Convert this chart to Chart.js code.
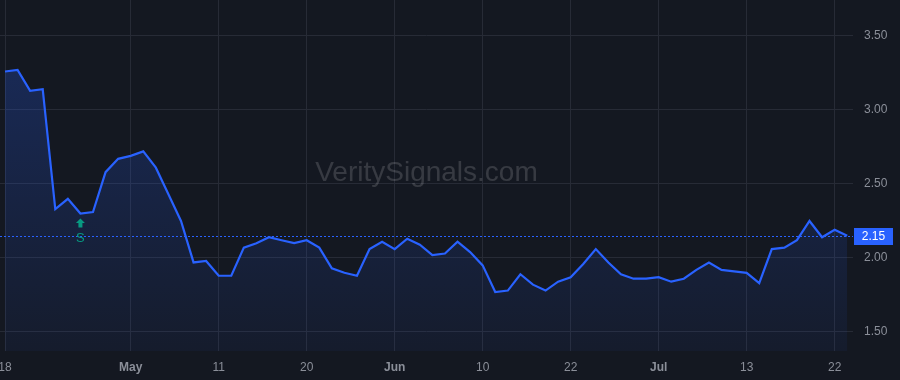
<!DOCTYPE html>
<html>
<head>
<meta charset="utf-8">
<script src="https://cdn.jsdelivr.net/npm/chart.js@4/dist/chart.umd.min.js"></script>
<style>
html,body{margin:0;padding:0;background:#141821;}
#wrap{width:900px;height:380px;position:relative;}
</style>
</head>
<body>
<div id="wrap"><canvas id="c" width="900" height="380"></canvas></div>
<script>
// ---- data ----
const values = [3.26,3.27,3.13,3.14,2.33,2.40,2.30,2.31,2.58,2.67,2.69,2.72,2.61,2.43,2.25,1.97,1.98,1.88,1.88,2.07,
  2.10,2.14,2.12,2.10,2.12,2.07,1.93,1.90,1.88,2.06,2.11,2.06,2.13,2.09,2.02,2.03,2.11,2.04,1.95,1.77,
  1.78,1.89,1.82,1.78,1.84,1.87,1.96,2.06,1.97,1.89,1.86,1.86,1.87,1.84,1.86,1.92,1.97,1.92,1.91,1.90,
  1.83,2.06,2.07,2.12,2.25,2.14,2.19,2.15];
const xTickIndex = [0,10,17,24,31,38,45,52,59,66];
const xTickLabels = ['18','May','11','20','Jun','10','22','Jul','13','22'];
const monthLabels = ['May','Jun','Jul'];
const yTicks = [1.5,2.0,2.5,3.0,3.5];
const lastPrice = 2.15;
const signalIndex = [6];
const signalText = ['S'];

const BG = '#141821';
const BLUE = '#2962ff';
const GRID = '#272b36';
const TEXT = '#8b8f99';

const points = values.map((v,i)=>({x:i,y:v}));

const bgPlugin = {
  id:'bg',
  beforeDraw(chart){
    const c = chart.ctx;
    c.save(); c.fillStyle = BG; c.fillRect(0,0,chart.width,chart.height); c.restore();
  }
};
const watermark = {
  id:'wm',
  beforeDatasetsDraw(chart){
    const c = chart.ctx, a = chart.chartArea;
    c.save();
    c.font = '28px "Liberation Sans", Arial, sans-serif';
    c.fillStyle = 'rgba(255,255,255,0.15)';
    c.textAlign = 'center';
    c.textBaseline = 'alphabetic';
    c.fillText('VeritySignals.com', (a.left+a.right)/2, 181);
    c.restore();
  }
};
const overlay = {
  id:'overlay',
  afterDatasetsDraw(chart){
    const c = chart.ctx, a = chart.chartArea, xs = chart.scales.x, ys = chart.scales.y;
    const py = Math.round(ys.getPixelForValue(lastPrice)) + 0.5;
    c.save();
    c.strokeStyle = BLUE; c.lineWidth = 1; c.setLineDash([2,2]);
    c.beginPath(); c.moveTo(a.left, py); c.lineTo(a.right, py); c.stroke();
    c.setLineDash([]);
    // price label
    c.fillStyle = BLUE;
    c.fillRect(a.right+1, py-8.5, 39, 17);
    c.fillStyle = '#ffffff';
    c.font = '12px "Liberation Sans", Arial, sans-serif';
    c.textAlign = 'center'; c.textBaseline = 'middle';
    c.fillText(lastPrice.toFixed(2), a.right+20.5, py+0.5);
    // signals
    signalIndex.forEach((idx,k)=>{
      const x = xs.getPixelForValue(idx);
      const y = ys.getPixelForValue(values[idx]);
      const top = y + 5;
      c.fillStyle = '#089981';
      c.beginPath();
      c.moveTo(x, top);
      c.lineTo(x+4.5, top+4.5);
      c.lineTo(x+2, top+4.5);
      c.lineTo(x+2, top+9);
      c.lineTo(x-2, top+9);
      c.lineTo(x-2, top+4.5);
      c.lineTo(x-4.5, top+4.5);
      c.closePath(); c.fill();
      c.font = '13px "Liberation Sans", Arial, sans-serif';
      c.textAlign = 'center'; c.textBaseline = 'middle';
      c.fillText(signalText[k], x, top+20);
    });
    c.restore();
  }
};

function noPad(s){ s.paddingLeft = 0; s.paddingRight = 0; s.paddingTop = 0; s.paddingBottom = 0; }

new Chart(document.getElementById('c'), {
  type:'line',
  data:{datasets:[{
    data: points,
    borderColor: BLUE,
    borderWidth: 2.2,
    pointRadius: 0,
    tension: 0,
    fill: 'start',
    backgroundColor(ctx){
      const ch = ctx.chart; const a = ch.chartArea;
      if(!a) return 'rgba(41,98,255,0.15)';
      const g = ch.ctx.createLinearGradient(0, a.top, 0, a.bottom);
      g.addColorStop(0, 'rgba(41,98,255,0.28)');
      g.addColorStop(1, 'rgba(41,98,255,0.05)');
      return g;
    }
  }]},
  options:{
    responsive:false,
    animation:false,
    devicePixelRatio:1,
    layout:{padding:0},
    plugins:{legend:{display:false}, tooltip:{enabled:false}},
    scales:{
      x:{
        type:'linear',
        min:-0.398, max:67.46,
        afterBuildTicks(s){ s.ticks = xTickIndex.map(v=>({value:v})); },
        afterFit(s){ s.height = 29; noPad(s); },
        grid:{color:GRID, drawTicks:false},
        border:{display:false},
        ticks:{
          autoSkip:false, maxRotation:0, padding:9, color:TEXT,
          callback(v){ const k = xTickIndex.indexOf(v); return k>=0 ? xTickLabels[k] : ''; },
          font(ctx){
            const k = ctx.index;
            const bold = k!=null && monthLabels.includes(xTickLabels[k]);
            return {family:'"Liberation Sans", Arial, sans-serif', size:12, weight: bold ? 'bold' : 'normal'};
          }
        }
      },
      y:{
        position:'right',
        min:1.3716, max:3.743,
        afterBuildTicks(s){ s.ticks = yTicks.map(v=>({value:v})); },
        afterFit(s){ s.width = 47; noPad(s); },
        grid:{color:GRID, drawTicks:false},
        border:{display:false},
        ticks:{
          padding:11, color:TEXT,
          font:{family:'"Liberation Sans", Arial, sans-serif', size:12},
          callback(v){ return Number(v).toFixed(2); }
        }
      }
    }
  },
  plugins:[bgPlugin, watermark, overlay]
});
</script>
</body>
</html>
